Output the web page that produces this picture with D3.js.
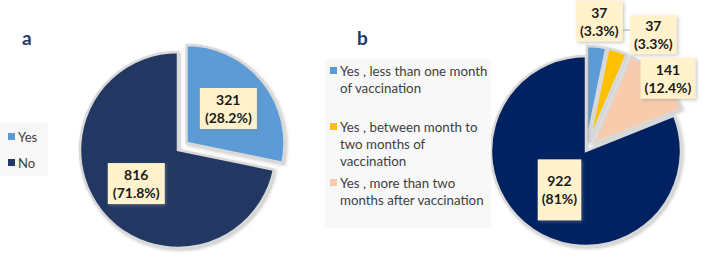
<!DOCTYPE html>
<html>
<head>
<meta charset="utf-8">
<script src="https://cdn.jsdelivr.net/npm/d3@7"></script>
<style>
  body { margin: 0; background: #fff; }
  text { font-family: Lato, "Open Sans", sans-serif; }
</style>
</head>
<body>
<div id="main"></div>
<script>
// panel a
var catsA = ["Yes", "No"];
var valsA = [321, 816];
var pctA = ["28.2%", "71.8%"];
var colorsA = ["#5B9BD5", "#203864"];

// panel b
var catsB = [
  ["Yes , less than one month", "of vaccination"],
  ["Yes , between month to", "two months of", "vaccination"],
  ["Yes , more than two", "months after vaccination"]
];
var valsB = [37, 37, 141, 922];
var pctB = ["3.3%", "3.3%", "12.4%", "81%"];
var colorsB = ["#5B9BD5", "#FFC000", "#F8CBAD", "#002060"];

var svg = d3.select("#main").append("svg")
    .attr("width", 708)
    .attr("height", 265);

var defs = svg.append("defs");
var f = defs.append("filter").attr("id", "shadow")
    .attr("x", "-20%").attr("y", "-20%").attr("width", "140%").attr("height", "140%");
f.append("feDropShadow").attr("dx", 1.5).attr("dy", 1.5)
  .attr("stdDeviation", 1.5).attr("flood-color", "#888").attr("flood-opacity", 0.45);

var pie = d3.pie().sort(null).value(function(d) { return d; });

function explode(d, dist) {
  var a = (d.startAngle + d.endAngle) / 2;
  return [Math.sin(a) * dist, -Math.cos(a) * dist];
}

function labelBox(g, x, y, lines, padX, padY) {
  var lb = g.append("g").attr("transform", "translate(" + x + "," + y + ")");
  var rect = lb.append("rect").attr("fill", "#FFF2CC").attr("filter", "url(#shadow)");
  var t = lb.append("text")
      .attr("text-anchor", "middle")
      .attr("font-size", 14)
      .attr("font-weight", "bold")
      .attr("fill", "#1a1a1a");
  lines.forEach(function(s, i) {
    t.append("tspan").attr("x", 0)
      .attr("y", (i - (lines.length - 1) / 2) * 18 + 5)
      .text(s);
  });
  var bb = t.node().getBBox();
  rect.attr("x", bb.x - padX).attr("y", bb.y - padY)
    .attr("width", bb.width + 2 * padX).attr("height", bb.height + 2 * padY);
  return lb;
}

//////////////////////////////////////////////////////////////////////////
// a
var cxA = 178, cyA = 150, rA = 98;
var arcA = d3.arc().innerRadius(0).outerRadius(rA);
var gA = svg.append("g").attr("transform", "translate(" + cxA + "," + cyA + ")");
var piesA = pie(valsA);
var explodeA = [11, 0];

gA.selectAll("path")
  .data(piesA)
  .enter()
  .append("path")
  .attr("d", arcA)
  .attr("transform", function(d, i) { return "translate(" + explode(d, explodeA[i]) + ")"; })
  .attr("fill", function(d, i) { return colorsA[i]; })
  .attr("stroke", "#d9d9d9")
  .attr("stroke-width", 2.5)
  .attr("stroke-linejoin", "miter")
  .attr("filter", "url(#shadow)");

var labelArcA = d3.arc().innerRadius(rA * 0.55).outerRadius(rA * 0.55);
piesA.forEach(function(d, i) {
  var c = labelArcA.centroid(d), o = explode(d, explodeA[i]);
  labelBox(gA, c[0] + o[0], c[1] + o[1], [String(valsA[i]), "(" + pctA[i] + ")"], 5, 3);
});

svg.append("text").attr("x", 22).attr("y", 45)
  .attr("font-size", 19).attr("font-weight", "bold").attr("fill", "#1F3864").text("a");

var legA = svg.append("g");
legA.append("rect").attr("x", 0).attr("y", 123).attr("width", 48).attr("height", 53).attr("fill", "#f8f8f8");
catsA.forEach(function(c, i) {
  var y = 137 + i * 26;
  legA.append("rect").attr("x", 8).attr("y", y - 4).attr("width", 7).attr("height", 7).attr("fill", colorsA[i]);
  legA.append("text").attr("x", 18).attr("y", y + 4.5).attr("font-size", 13).attr("fill", "#404040").text(c);
});

//////////////////////////////////////////////////////////////////////////
// b
var cxB = 586, cyB = 151, rB = 95;
var arcB = d3.arc().innerRadius(0).outerRadius(rB);
var gB = svg.append("g").attr("transform", "translate(" + cxB + "," + cyB + ")");
var piesB = pie(valsB);
var explodeB = [10, 10, 10, 0];

gB.selectAll("path")
  .data(piesB)
  .enter()
  .append("path")
  .attr("d", arcB)
  .attr("transform", function(d, i) { return "translate(" + explode(d, explodeB[i]) + ")"; })
  .attr("fill", function(d, i) { return colorsB[i]; })
  .attr("stroke", "#d9d9d9")
  .attr("stroke-width", 2.5)
  .attr("filter", "url(#shadow)");

// label placement: radius factor and angle nudge per slice
var labelRB = [1.37, 1.41, 1.15, 0.5];
var labelNudgeB = [0, 0.22, 0.05, 0];
var padYB = [3, 2, 3, 13];
var boxesB = [];
piesB.forEach(function(d, i) {
  var a = (d.startAngle + d.endAngle) / 2 + labelNudgeB[i];
  var r = rB * labelRB[i];
  boxesB.push(labelBox(gB, Math.sin(a) * r, -Math.cos(a) * r,
    [String(valsB[i]), "(" + pctB[i] + ")"], 4, padYB[i]));
});
// small leader from first label
var bb0 = boxesB[0].select("rect");
var t0 = d3.select(boxesB[0].node()).attr("transform");
var m = /translate\(([-\d.]+),([-\d.]+)\)/.exec(t0);
var lx = +m[1] + (+bb0.attr("x")) + (+bb0.attr("width"));
var ly = +m[2] + (+bb0.attr("y")) + (+bb0.attr("height")) * 0.72;
gB.insert("line", "g").attr("x1", lx).attr("y1", ly).attr("x2", lx + 8).attr("y2", ly)
  .attr("stroke", "#a6a6a6").attr("stroke-width", 1);

svg.append("text").attr("x", 357).attr("y", 45)
  .attr("font-size", 19).attr("font-weight", "bold").attr("fill", "#1F3864").text("b");

var legB = svg.append("g");
legB.append("rect").attr("x", 325).attr("y", 59).attr("width", 166).attr("height", 169).attr("fill", "#f8f8f8");
var legY = [71, 127, 183];
catsB.forEach(function(lines, i) {
  var y = legY[i];
  legB.append("rect").attr("x", 330).attr("y", y - 4).attr("width", 7).attr("height", 7).attr("fill", colorsB[i]);
  lines.forEach(function(s, j) {
    legB.append("text").attr("x", 340).attr("y", y + 4.5 + j * 17)
      .attr("font-size", 13.3).attr("fill", "#404040").text(s);
  });
});
</script>
</body>
</html>
